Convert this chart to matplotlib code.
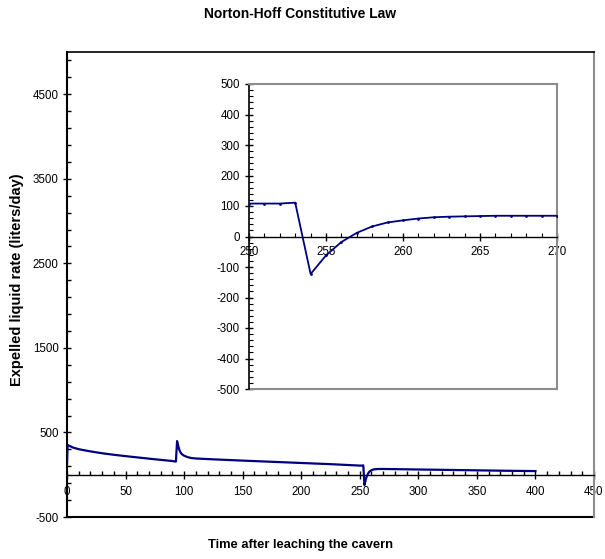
import matplotlib
matplotlib.use('Agg')
import matplotlib.pyplot as plt
from matplotlib.ticker import MultipleLocator, FixedLocator
import numpy as np

plt.rcParams['font.family'] = ['Liberation Sans', 'DejaVu Sans']
plt.rcParams['axes.unicode_minus'] = False

# Data (time in days, rate in liters/day)
time_days = [0, 0.5, 5, 10, 20, 30, 40, 50, 60, 70, 80, 90, 93,
             94, 95, 96, 97, 98, 100, 103, 106, 110, 125, 150, 175, 200, 225,
             250, 251, 252, 253, 254, 255, 256, 257, 258, 259, 260, 261, 262,
             263, 264, 265, 266, 267, 268, 269, 270, 300, 325, 350, 375, 400]
rate = [110, 352, 322, 302, 276, 254, 236, 220, 205, 190, 176, 162, 155,
        398, 340, 292, 262, 244, 225, 208, 198, 192, 182, 167, 153, 139, 125,
        108, 108, 108, 111, -123, -62, -18, 12, 33, 46, 53, 59, 63,
        65, 66, 67, 68, 68, 68, 68, 68, 62, 57, 52, 47, 43]

main_xticks = list(range(0, 451, 50))
main_yticks = list(range(-500, 5000, 1000))
inset_xticks = list(range(250, 271, 5))
inset_yticks = list(range(-500, 501, 100))

title = "Norton-Hoff Constitutive Law"
xlabel = "Time after leaching the cavern"
ylabel = "Expelled liquid rate (liters/day)"

line_color = '#000080'
grey = '#8c8c8c'

fig = plt.figure(figsize=(6.05, 5.59), dpi=100)

# ---------- main axes ----------
ax = fig.add_axes([67/605, 1-517/559, (594-67)/605, (517-52)/559])
ax.plot(time_days, rate, color=line_color, lw=1.6, zorder=3)
ax.set_xlim(0, 450)
ax.set_ylim(-500, 5000)
ax.spines['bottom'].set_position(('data', 0))
ax.spines['bottom'].set_linewidth(1.0)
ax.spines['left'].set_linewidth(1.5)
ax.spines['top'].set_linewidth(1.2)
ax.spines['right'].set_color(grey)
ax.spines['right'].set_linewidth(1.5)
ax.axhline(-500, color='black', lw=1.5, clip_on=False)

ax.xaxis.set_major_locator(FixedLocator(main_xticks))
ax.xaxis.set_minor_locator(MultipleLocator(10))
ax.yaxis.set_major_locator(FixedLocator(main_yticks))
ax.yaxis.set_minor_locator(MultipleLocator(200, offset=100))
ax.tick_params(axis='both', which='major', direction='inout', length=6, width=1,
               labelsize=8.3, colors='black')
ax.tick_params(axis='both', which='minor', direction='in', length=3, width=1)
ax.tick_params(axis='x', which='major', pad=5)
ax.tick_params(axis='y', which='major', pad=3)

# ---------- inset ----------
ax2 = fig.add_axes([249/605, 1-389/559, (557-249)/605, (389-84)/559])
ax2.plot(time_days, rate, color=line_color, lw=1.3, marker='o', ms=1.0, zorder=3)
ax2.set_xlim(250, 270)
ax2.set_ylim(-500, 500)
ax2.spines['bottom'].set_position(('data', 0))
ax2.spines['bottom'].set_linewidth(1.0)
ax2.spines['left'].set_linewidth(1.2)
for s in ('top', 'right'):
    ax2.spines[s].set_color(grey)
    ax2.spines[s].set_linewidth(1.5)
ax2.axhline(-500, color=grey, lw=1.5, clip_on=False)

ax2.xaxis.set_major_locator(FixedLocator(inset_xticks))
ax2.xaxis.set_minor_locator(MultipleLocator(1))
ax2.yaxis.set_major_locator(FixedLocator(inset_yticks))
ax2.yaxis.set_minor_locator(MultipleLocator(20))
ax2.tick_params(axis='both', which='major', direction='inout', length=6, width=1,
                labelsize=8.3)
ax2.tick_params(axis='both', which='minor', direction='in', length=3, width=0.8)
ax2.tick_params(axis='x', which='major', pad=4)

# ---------- texts ----------
fig.text(300/605, 1-14/559, title, ha='center', va='center',
         fontsize=10, fontweight='bold')
fig.text(300/605, 1-545/559, xlabel, ha='center', va='center',
         fontsize=9.3, fontweight='bold')
fig.text(17/605, 1-280/559, ylabel, ha='center', va='center', rotation=90,
         fontsize=10.5, fontweight='bold')

fig.savefig('out.png', dpi=100)
